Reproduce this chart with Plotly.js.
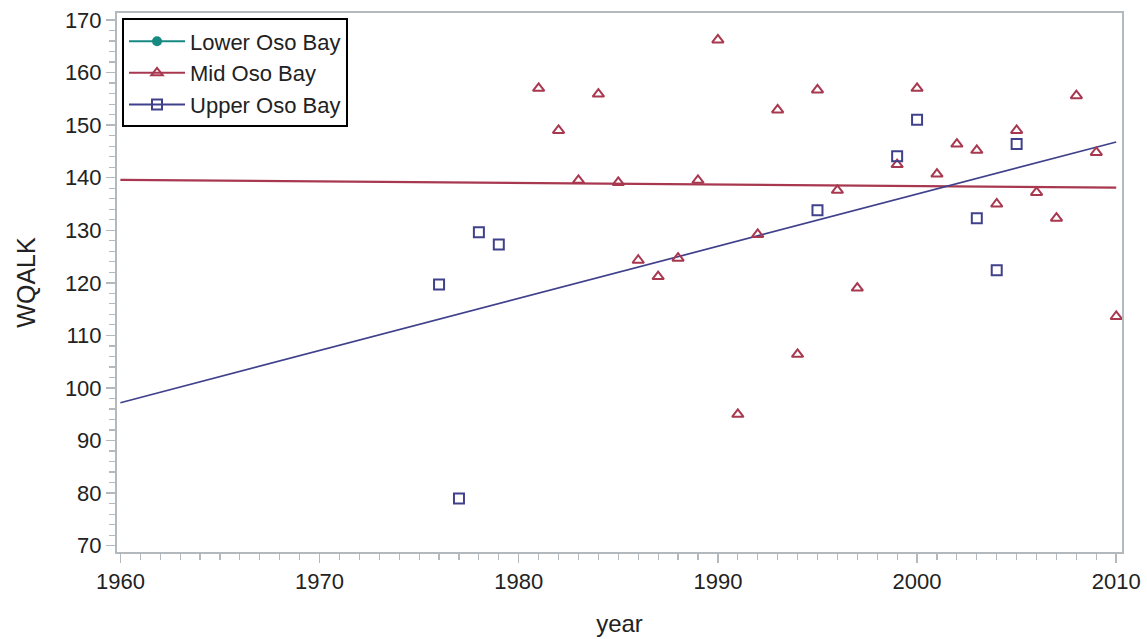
<!DOCTYPE html>
<html>
<head>
<meta charset="utf-8">
<script src="https://cdn.plot.ly/plotly-3.0.1.min.js"></script>
<style>html,body{margin:0;padding:0;background:#fff;}#chart{width:1147px;height:639px;}</style>
</head>
<body>
<div id="chart"></div>
<script>
// Mid Oso Bay observations
var midYears = [1981,1982,1983,1984,1985,1986,1987,1988,1989,1990,1991,1992,1993,1994,1995,1996,1997,1999,2000,2001,2002,2003,2004,2005,2006,2007,2008,2009,2010];
var midValues = [157.0,149.0,139.5,155.9,139.1,124.3,121.2,124.7,139.5,166.2,95.0,129.2,152.9,106.4,156.7,137.6,119.0,142.5,157.0,140.7,146.4,145.2,135.0,149.0,137.2,132.3,155.6,144.8,113.6];
// Upper Oso Bay observations
var upperYears = [1976,1977,1978,1979,1995,1999,2000,2003,2004,2005];
var upperValues = [119.7,79.0,129.6,127.3,133.8,144.1,151.0,132.3,122.4,146.4];
// Lower Oso Bay observations (none visible in plotted range)
var lowerYears = [null];
var lowerValues = [null];
// Fitted regression line endpoints
var midFitYears = [1960, 2010];
var midFitValues = [139.6, 138.1];
var upperFitYears = [1960, 2010];
var upperFitValues = [97.2, 146.8];

var colLower = '#168a82', colMid = '#a8384f', colUpper = '#40418c';
var FONT = 'Liberation Sans, Arial, sans-serif';

var traces = [
  {x: lowerYears, y: lowerValues, name: 'Lower Oso Bay', type: 'scatter', mode: 'lines+markers',
   line: {color: colLower, width: 2}, marker: {symbol: 'circle', size: 10, color: colLower}},
  {x: [null], y: [null], name: 'Mid Oso Bay', type: 'scatter', mode: 'lines+markers',
   line: {color: colMid, width: 2}, marker: {symbol: 'triangle-up-open', size: 10, color: colMid, line: {width: 2, color: colMid}}},
  {x: [null], y: [null], name: 'Upper Oso Bay', type: 'scatter', mode: 'lines+markers',
   line: {color: colUpper, width: 2}, marker: {symbol: 'square-open', size: 10, color: colUpper, line: {width: 2, color: colUpper}}},
  {x: midFitYears, y: midFitValues, name: 'Mid Oso Bay fit', type: 'scatter', mode: 'lines',
   line: {color: colMid, width: 2.2}, showlegend: false},
  {x: upperFitYears, y: upperFitValues, name: 'Upper Oso Bay fit', type: 'scatter', mode: 'lines',
   line: {color: colUpper, width: 1.7}, showlegend: false},
  {x: midYears, y: midValues, name: 'Mid Oso Bay', type: 'scatter', mode: 'markers',
   marker: {symbol: 'triangle-up-open', size: 10, color: colMid, line: {width: 2, color: colMid}}, showlegend: false},
  {x: upperYears, y: upperValues, name: 'Upper Oso Bay', type: 'scatter', mode: 'markers',
   marker: {symbol: 'square-open', size: 10, color: colUpper, line: {width: 2, color: colUpper}}, showlegend: false}
];

var axisCommon = {
  showline: true, mirror: true, linecolor: '#b4b9bd', linewidth: 2,
  showgrid: false, zeroline: false,
  ticks: 'outside', ticklen: 9, tickwidth: 1.5, tickcolor: '#b4b9bd',
  tickfont: {family: FONT, size: 22, color: '#222'}
};

var layout = {
  width: 1147, height: 639,
  margin: {l: 117, r: 25, t: 13, b: 87},
  paper_bgcolor: '#fff', plot_bgcolor: '#fff',
  font: {family: FONT, color: '#222'},
  xaxis: Object.assign({}, axisCommon, {
    range: [1959.83, 2010.29], tickvals: [1960,1970,1980,1990,2000,2010],
    minor: {dtick: 1, ticks: 'outside', ticklen: 6, tickcolor: '#b4b9bd', tickwidth: 1.2},
    title: {text: 'year', font: {size: 24, color: '#222'}, standoff: 22}
  }),
  yaxis: Object.assign({}, axisCommon, {
    range: [68.8, 171.33], tickvals: [70,80,90,100,110,120,130,140,150,160,170],
    minor: {dtick: 2, ticks: 'outside', ticklen: 6, tickcolor: '#b4b9bd', tickwidth: 1.2},
    title: {text: 'WQALK', font: {size: 25, color: '#222'}, standoff: 22}
  }),
  showlegend: true,
  legend: {x: 0.005, y: 0.99, xanchor: 'left', yanchor: 'top',
    bordercolor: '#000', borderwidth: 2, bgcolor: '#fff',
    font: {family: FONT, size: 22, color: '#222'},
    tracegroupgap: 0, itemwidth: 56, traceorder: 'normal'},
  hovermode: false
};

Plotly.newPlot('chart', traces, layout, {displayModeBar: false, staticPlot: true});
</script>
</body>
</html>
